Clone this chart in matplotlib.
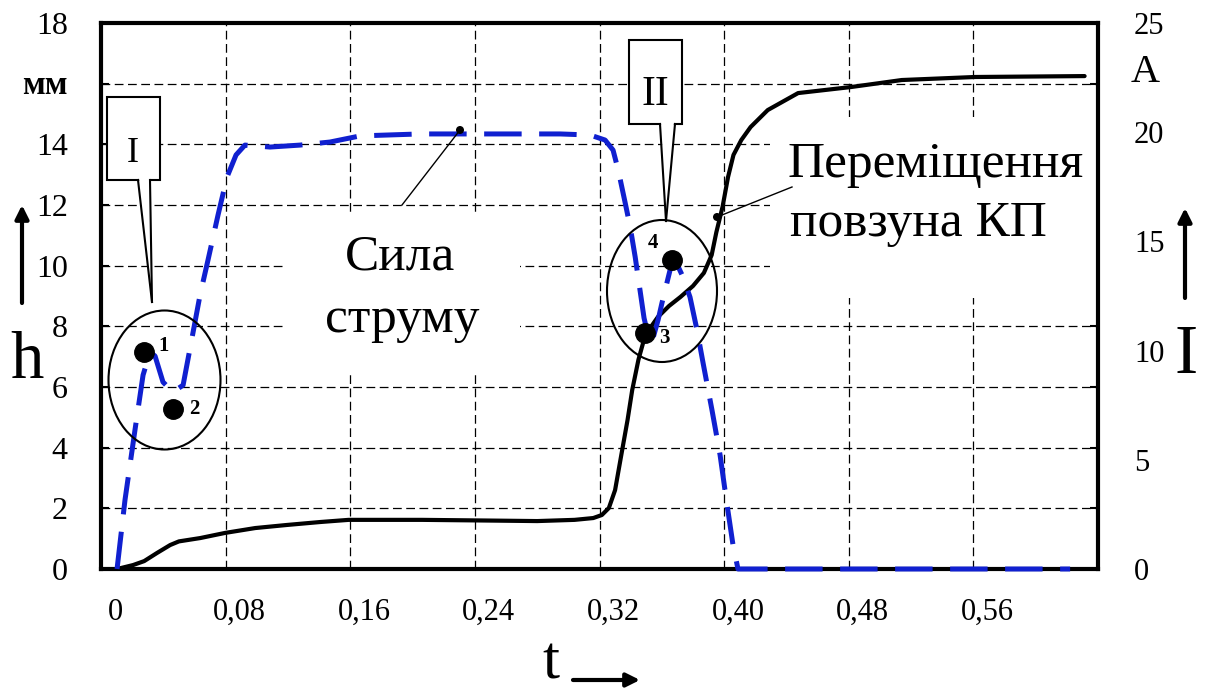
import matplotlib
matplotlib.use('Agg')
import matplotlib.pyplot as plt
from matplotlib.patches import Rectangle, Ellipse, Polygon, Circle, FancyArrowPatch
from matplotlib.lines import Line2D
from matplotlib.transforms import Affine2D, ScaledTranslation

plt.rcParams['font.family'] = ['Liberation Serif', 'DejaVu Serif']

# ---------------- data ----------------
# displacement of the slider (black, left axis, mm)
t_disp = [0.0103, 0.0206, 0.0277, 0.036, 0.0444, 0.050, 0.0637, 0.0797, 0.099, 0.119,
          0.141, 0.159, 0.206, 0.244, 0.280, 0.304, 0.316, 0.3215, 0.326, 0.330,
          0.334, 0.338, 0.341, 0.345, 0.3485, 0.353, 0.3575, 0.3646, 0.372, 0.380,
          0.387, 0.392, 0.395, 0.399, 0.4025, 0.406, 0.411, 0.417, 0.428, 0.4475,
          0.4816, 0.514, 0.561, 0.6314]
h_disp = [0.0, 0.13, 0.26, 0.53, 0.79, 0.91, 1.02, 1.19, 1.35, 1.45,
          1.55, 1.62, 1.62, 1.60, 1.58, 1.62, 1.68, 1.78, 2.01, 2.6,
          3.76, 4.91, 5.9, 6.9, 7.55, 7.98, 8.31, 8.67, 8.97, 9.33,
          9.76, 10.35, 11.1, 11.94, 12.92, 13.65, 14.14, 14.57, 15.13, 15.69,
          15.89, 16.12, 16.22, 16.25]

# current (blue dashed, right axis, A)
t_cur = [0.0103, 0.0154, 0.0218, 0.027, 0.0315, 0.0347, 0.0398, 0.0462, 0.0527, 0.059,
         0.0636, 0.0687, 0.0751, 0.0809, 0.0867, 0.0924, 0.1085, 0.1278, 0.147, 0.1663,
         0.2048, 0.2562, 0.2947, 0.314, 0.3236, 0.3287, 0.332, 0.3365, 0.3397, 0.3429,
         0.346, 0.3486, 0.3512, 0.3544, 0.3576, 0.3601, 0.3653, 0.3691, 0.3736, 0.3781,
         0.3826, 0.3865, 0.3922, 0.3974, 0.4019, 0.4057, 0.4089, 0.6221]
i_cur = [0.0, 3.16, 6.36, 8.88, 9.94, 9.75, 8.56, 8.10, 8.42, 10.8,
         12.55, 14.15, 16.2, 17.95, 18.96, 19.41, 19.32, 19.41, 19.55, 19.83,
         19.92, 19.92, 19.92, 19.87, 19.64, 19.18, 18.27, 16.76, 15.66, 14.29,
         12.77, 11.49, 10.71, 10.58, 11.40, 12.18, 13.69, 14.06, 13.37, 12.45,
         10.94, 9.43, 7.28, 5.22, 2.93, 1.10, 0.0, 0.0]

# characteristic points
marker_t = [0.0276, 0.0462, 0.3492, 0.3665]
marker_h = [7.15, 5.27, 7.78, 10.19]
marker_labels = ['1', '2', '3', '4']

x_ticks = [0, 0.08, 0.16, 0.24, 0.32, 0.40, 0.48, 0.56]
x_tick_labels = ['0', '0,08', '0,16', '0,24', '0,32', '0,40', '0,48', '0,56']
h_ticks = [0, 2, 4, 6, 8, 10, 12, 14, 16, 18]
h_tick_labels = ['0', '2', '4', '6', '8', '10', '12', '14', '', '18']
i_ticks = [0, 5, 10, 15, 20, 25]
i_tick_labels = ['0', '5', '10', '15', '20', '25']

# ---------------- figure ----------------
W, H = 1206, 693
fig = plt.figure(figsize=(W / 100, H / 100), dpi=100)
fig.patch.set_facecolor('white')
ax = fig.add_axes([101 / W, (H - 569) / H, 997 / W, 546 / H])
ax2 = ax.twinx()

# transform for reference pixel coordinates (x right, y down)
pxT = Affine2D().scale(1 / W, -1 / H).translate(0, 1) + fig.transFigure

BLUE = '#1020d0'

ax.set_xlim(0, 0.64)
ax.set_ylim(0, 18)
ax2.set_ylim(0, 25)

# grid
ax.set_axisbelow(True)
ax.grid(True, color='black', lw=0.9, linestyle=(0, (7, 3.6)))

# white areas behind texts (grid interrupted)
for (x0, y0, w, h) in [(283, 212, 237, 160), (770, 117, 328, 181)]:
    ax.add_patch(Rectangle((x0, y0), w, h, transform=pxT, fc='white', ec='none', zorder=1))

# black displacement curve
ax.plot(t_disp, h_disp, color='black', lw=3.0, zorder=3, solid_capstyle='round',
        solid_joinstyle='round', clip_on=False)

# blue dashed current curve (on twin axis, above black)
ax2.plot(t_cur, i_cur, color=BLUE, lw=3.6, linestyle=(0, (7.5, 3.5)), zorder=2,
         clip_on=False)

# markers
ax2.plot(marker_t, marker_h, 'o', color='black', ms=14, transform=ax.transData,
         zorder=5, clip_on=False)
ax2.set_ylim(0, 25)
ax2.set_xlim(0, 0.64)

# spines
for s in ax.spines.values():
    s.set_linewidth(3.0)
for s in ax2.spines.values():
    s.set_visible(False)

# ticks
ax.set_xticks(x_ticks)
ax.set_xticklabels(x_tick_labels, fontsize=22)
ax.tick_params(axis='x', length=0, pad=21)
for lab in ax.get_xticklabels():
    lab.set_transform(lab.get_transform() + ScaledTranslation(0.14, 0, fig.dpi_scale_trans))
ax.set_yticks(h_ticks)
ax.set_yticklabels(h_tick_labels, fontsize=23)
ax.tick_params(axis='y', direction='in', length=6, width=1.5, pad=24,
               left=True, right=True, labelleft=True, labelright=False)
ax2.set_yticks(i_ticks)
ax2.set_yticklabels(i_tick_labels, fontsize=22)
ax2.tick_params(axis='y', length=0, pad=26)

# ---------------- annotations (pixel coordinates) ----------------
def ftext(x, y, s, **kw):
    kw.setdefault('ha', 'center')
    kw.setdefault('va', 'center')
    fig.text(x, y, s, transform=pxT, **kw)

def fline(xs, ys, **kw):
    fig.add_artist(Line2D(xs, ys, transform=pxT, **kw))

# ellipses
fig.add_artist(Ellipse((164.5, 380), 112, 139, transform=pxT, fill=False, ec='black', lw=1.5, zorder=4))
fig.add_artist(Ellipse((662, 291), 110, 142, transform=pxT, fill=False, ec='black', lw=1.5, zorder=4))

# marker numbers
for lab, (x, y) in zip(marker_labels, [(164, 346), (194, 409), (664, 338), (653, 243)]):
    ftext(x, y, lab, fontsize=15, fontweight='bold')

# callout I
fig.add_artist(Rectangle((107, 97), 53, 83, transform=pxT, fc='white', ec='black', lw=1.5, zorder=4))
fig.add_artist(Polygon([(139, 178), (149.5, 178), (152, 302)], closed=True, transform=pxT,
                       fc='white', ec='none', zorder=4.1))
fline([138, 152], [180, 302], color='black', lw=1.5, zorder=4.2)
fline([150, 152], [180, 302], color='black', lw=1.5, zorder=4.2)
ftext(133, 153, 'I', fontsize=26, zorder=5)

# callout II
fig.add_artist(Rectangle((629, 40), 53, 84, transform=pxT, fc='white', ec='black', lw=1.5, zorder=4))
fig.add_artist(Polygon([(661, 122), (674, 122), (666, 221)], closed=True, transform=pxT,
                       fc='white', ec='none', zorder=4.1))
fline([660, 666], [124, 221], color='black', lw=1.5, zorder=4.2)
fline([675, 666], [124, 221], color='black', lw=1.5, zorder=4.2)
ftext(655, 95, 'II', fontsize=30, zorder=5)

# leaders
fline([460, 402], [130, 205], color='black', lw=1.0, zorder=4)
fig.add_artist(Circle((460, 130), 4, transform=pxT, fc='black', ec='none', zorder=4))
fline([717, 792], [217, 187], color='black', lw=1.0, zorder=4)
fig.add_artist(Circle((717, 217), 4, transform=pxT, fc='black', ec='none', zorder=4))

# curve labels
ftext(400, 270, 'Сила', fontsize=37, va='baseline')
ftext(402, 332, 'струму', fontsize=37, va='baseline')
ftext(936, 177, 'Переміщення', fontsize=37, va='baseline')
ftext(918, 236, 'повзуна КП', fontsize=37, va='baseline')

# axis labels and units
ftext(27, 378, 'h', fontsize=48, va='baseline')
ftext(45, 86, 'мм', fontsize=24, fontweight='bold')
ftext(551, 664, 't', fontsize=44, va='center')
ftext(1145, 72, 'A', fontsize=29)
ftext(1186, 373, 'I', fontsize=50, va='baseline')

# arrows
for (x0, y0, x1, y1) in [(22, 303, 22, 205), (1185, 298, 1185, 208), (573, 680, 640, 680)]:
    fig.add_artist(FancyArrowPatch((x0, y0), (x1, y1), transform=pxT, arrowstyle='-|>',
                                   mutation_scale=20, lw=3, color='black', shrinkA=0, shrinkB=0))

fig.savefig('out.png', dpi=100, facecolor='white')
